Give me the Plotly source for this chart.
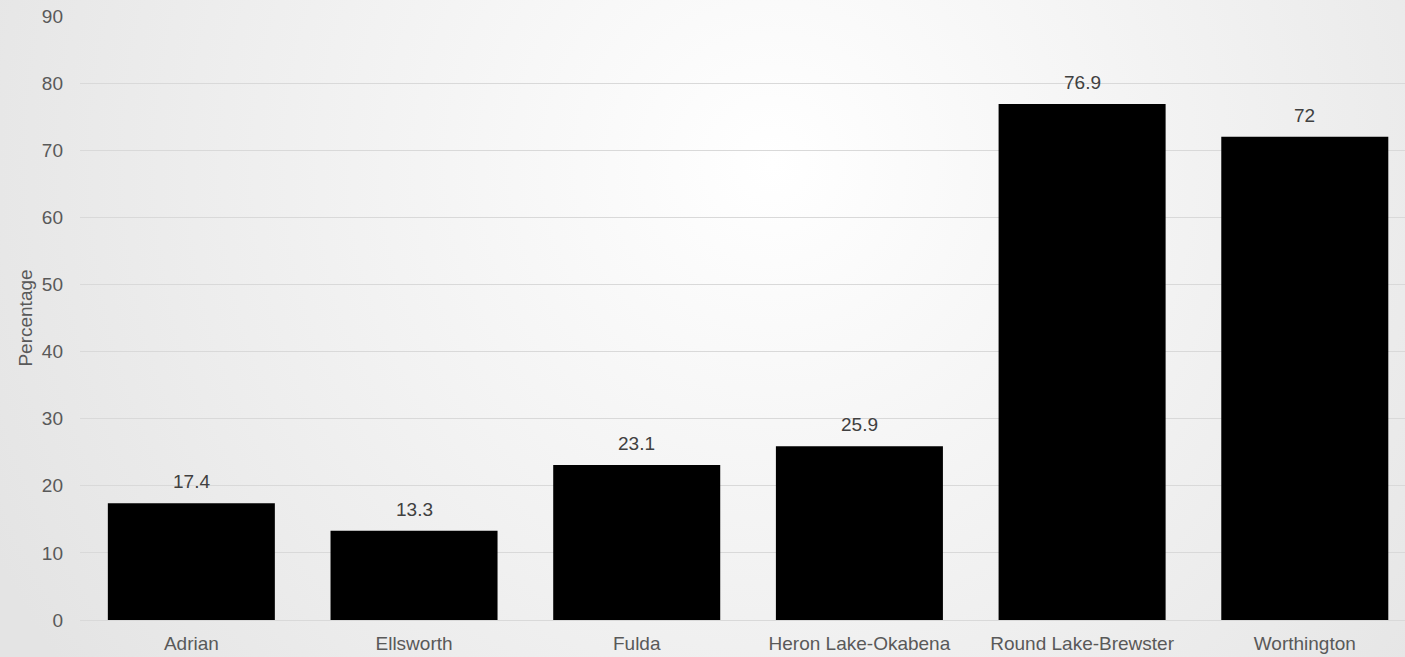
import base64
import plotly.graph_objects as go

categories = ["Adrian", "Ellsworth", "Fulda", "Heron Lake-Okabena", "Round Lake-Brewster", "Worthington"]
values = [17.4, 13.3, 23.1, 25.9, 76.9, 72]
labels = ["17.4", "13.3", "23.1", "25.9", "76.9", "72"]
y_ticks = [0, 10, 20, 30, 40, 50, 60, 70, 80, 90]

W, H = 1405, 657
ML, MR, MT, MB = 80, 0, 16, 37
PW, PH = W - ML - MR, H - MT - MB

svg = f'''<svg xmlns="http://www.w3.org/2000/svg" width="{W}" height="{H}" viewBox="0 0 {W} {H}" preserveAspectRatio="none">
<defs><radialGradient id="g" cx="{0.55*W}" cy="{0.25*H}" r="{0.62*W}" gradientUnits="userSpaceOnUse">
<stop offset="0" stop-color="#ffffff"/><stop offset="1" stop-color="#e4e4e4"/></radialGradient></defs>
<rect x="0" y="0" width="{W}" height="{H}" fill="url(#g)"/></svg>'''
src = "data:image/svg+xml;base64," + base64.b64encode(svg.encode()).decode()

FONT = "Arial, 'Liberation Sans', sans-serif"
FS = 19

fig = go.Figure()
fig.add_trace(go.Bar(x=categories, y=values, marker=dict(color="#000000", line=dict(width=0)),
                     hoverinfo="x+y"))

for c, v, t in zip(categories, values, labels):
    fig.add_annotation(x=c, y=v, text=t, showarrow=False, yanchor="bottom", yshift=9,
                       font=dict(family=FONT, size=FS, color="#404040"))

fig.update_layout(
    width=W, height=H,
    margin=dict(l=ML, r=MR, t=MT, b=MB),
    paper_bgcolor="#eeeeee",
    plot_bgcolor="rgba(0,0,0,0)",
    bargap=0.25,
    showlegend=False,
    font=dict(family=FONT, size=FS, color="#595959"),
    images=[dict(source=src, xref="paper", yref="paper",
                 x=-ML / PW, y=1 + MT / PH, sizex=W / PW, sizey=H / PH,
                 sizing="stretch", xanchor="left", yanchor="top", layer="below")],
    xaxis=dict(range=[-0.5, 5.45], showgrid=False, zeroline=False, showline=False,
               ticks="", tickfont=dict(size=FS, color="#595959"), ticklabelstandoff=10),
    yaxis=dict(range=[0, 90], tickvals=y_ticks, showgrid=True, gridcolor="#d9d9d9", gridwidth=1,
               zeroline=True, zerolinecolor="#d9d9d9", zerolinewidth=1, showline=False,
               ticks="", tickfont=dict(size=FS, color="#595959"), ticklabelstandoff=16,
               title=dict(text="Percentage", font=dict(size=FS, color="#595959"), standoff=4)),
)

fig.write_html("out.html")
